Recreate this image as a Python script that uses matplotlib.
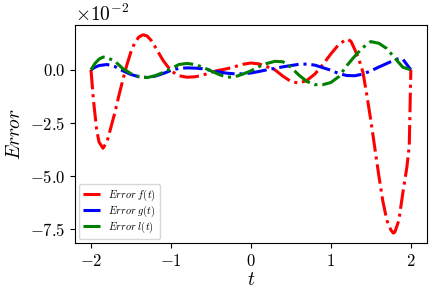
import matplotlib
matplotlib.use("Agg")
import matplotlib.pyplot as plt
import numpy as np

plt.rcParams["mathtext.fontset"] = "cm"
plt.rcParams["font.family"] = "serif"
plt.rcParams["font.serif"] = ["cmr10", "DejaVu Serif"]
plt.rcParams["axes.formatter.use_mathtext"] = True

SCALE = 1e-2  # values below are in units of 1e-2

T_F = [-2.0, -1.97, -1.93, -1.9, -1.85, -1.8, -1.75, -1.7, -1.65, -1.6, -1.55,
       -1.5, -1.45, -1.4, -1.35, -1.3, -1.25, -1.2, -1.1, -1.0, -0.9, -0.8,
       -0.7, -0.6, -0.5, -0.4, -0.3, -0.2, -0.1, 0.0, 0.1, 0.2, 0.3, 0.4, 0.5,
       0.6, 0.7, 0.8, 0.9, 1.0, 1.1, 1.2, 1.25, 1.3, 1.35, 1.4, 1.45, 1.5,
       1.55, 1.6, 1.65, 1.7, 1.75, 1.78, 1.8, 1.85, 1.9, 1.95, 1.98, 2.0]
ERR_F = [0.0, -1.4, -2.8, -3.4, -3.7, -3.4, -2.7, -2.0, -1.2, -0.45, 0.25,
         0.85, 1.3, 1.55, 1.65, 1.6, 1.4, 1.1, 0.45, -0.05, -0.28, -0.35,
         -0.33, -0.25, -0.12, -0.02, 0.05, 0.15, 0.26, 0.32, 0.28, 0.15, 0.0,
         -0.3, -0.55, -0.63, -0.5, -0.2, 0.25, 0.75, 1.2, 1.45, 1.35, 0.95,
         0.5, -0.1, -1.2, -2.4, -3.7, -5.0, -6.2, -7.1, -7.55, -7.7, -7.65,
         -7.1, -5.8, -4.6, -3.6, 0.0]

T_G = [-2.0, -1.95, -1.9, -1.8, -1.7, -1.6, -1.5, -1.4, -1.3, -1.2, -1.1,
       -1.0, -0.9, -0.8, -0.7, -0.6, -0.5, -0.4, -0.3, -0.2, -0.1, 0.0, 0.1,
       0.2, 0.3, 0.4, 0.5, 0.6, 0.7, 0.8, 0.9, 1.0, 1.1, 1.2, 1.3, 1.4, 1.5,
       1.6, 1.7, 1.8, 1.85, 1.9, 1.95, 2.0]
ERR_G = [0.0, 0.12, 0.2, 0.25, 0.15, -0.05, -0.22, -0.33, -0.36, -0.3, -0.18,
         -0.03, 0.07, 0.09, 0.08, 0.05, -0.03, -0.1, -0.16, -0.19, -0.19,
         -0.15, -0.08, 0.0, 0.07, 0.14, 0.2, 0.26, 0.27, 0.22, 0.1, -0.02,
         -0.18, -0.27, -0.28, -0.2, -0.05, 0.13, 0.3, 0.47, 0.53, 0.5, 0.25,
         0.0]

T_L = [-2.0, -1.95, -1.9, -1.85, -1.8, -1.7, -1.6, -1.5, -1.4, -1.3, -1.2,
       -1.1, -1.0, -0.9, -0.8, -0.7, -0.6, -0.5, -0.4, -0.3, -0.2, -0.1, 0.0,
       0.1, 0.2, 0.3, 0.4, 0.5, 0.6, 0.7, 0.8, 0.9, 1.0, 1.1, 1.2, 1.3, 1.4,
       1.5, 1.6, 1.7, 1.8, 1.9, 2.0]
ERR_L = [0.0, 0.3, 0.5, 0.6, 0.58, 0.4, 0.05, -0.18, -0.32, -0.37, -0.28,
         -0.13, 0.05, 0.25, 0.3, 0.25, 0.12, -0.05, -0.22, -0.35, -0.33, -0.2,
         -0.05, 0.15, 0.3, 0.4, 0.38, 0.12, -0.25, -0.55, -0.7, -0.7, -0.6,
         -0.32, 0.2, 0.65, 1.05, 1.33, 1.25, 1.0, 0.55, 0.12, 0.0]


def main() -> None:
    fig = plt.figure(figsize=(4.36, 3.0), dpi=100)
    ax = fig.add_axes([0.172, 0.19, 0.807, 0.727])

    for t, err, color, label in [
        (T_F, ERR_F, "red", r"$Error\ f(t)$"),
        (T_G, ERR_G, "blue", r"$Error\ g(t)$"),
        (T_L, ERR_L, "green", r"$Error\ l(t)$"),
    ]:
        ax.plot(t, np.array(err) * SCALE, "-.", color=color, linewidth=2.2, label=label)

    ax.ticklabel_format(axis="y", style="sci", scilimits=(0, 0))
    ax.set_xticks([-2, -1, 0, 1, 2])
    ax.set_yticks([0.0, -0.025, -0.05, -0.075])
    ax.tick_params(labelsize=12)
    ax.yaxis.get_offset_text().set_fontsize(14)
    ax.set_xlabel(r"$t$", fontsize=14, labelpad=2)
    ax.set_ylabel(r"$Error$", fontsize=14, labelpad=4)
    ax.legend(loc="lower left", fontsize=7.5, labelspacing=0.05, handlelength=1.6,
              borderaxespad=0.4)

    fig.savefig("out.png", dpi=100)
    plt.close(fig)


if __name__ == "__main__":
    main()
